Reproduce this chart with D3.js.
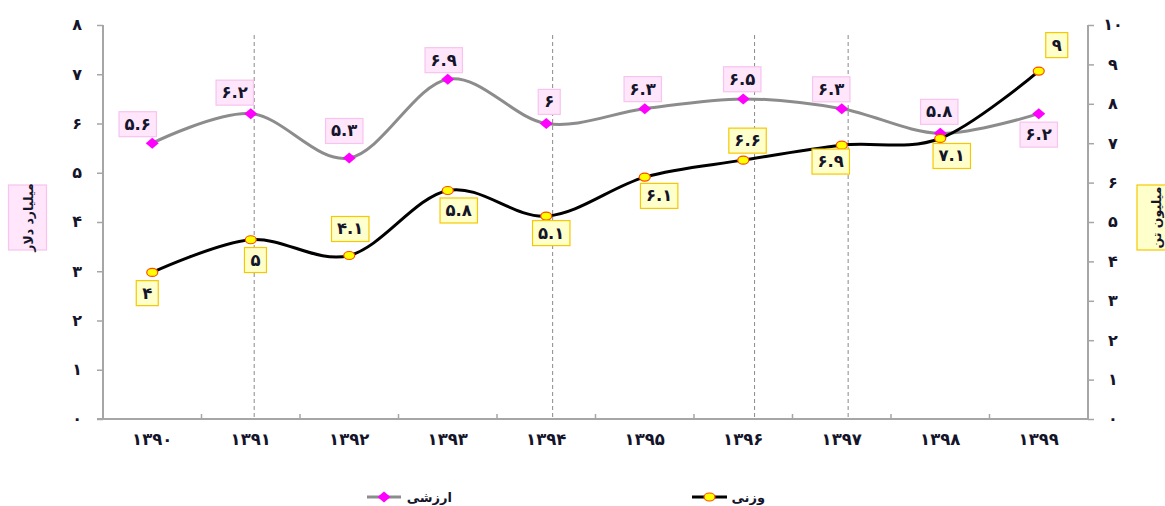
<!DOCTYPE html>
<html><head><meta charset="utf-8">
<script src="https://cdn.jsdelivr.net/npm/d3@7/dist/d3.min.js"></script>
<style>
html,body{margin:0;padding:0;background:#fff;}
svg{display:block;font-family:"DejaVu Sans",sans-serif;font-weight:bold;}
</style></head>
<body>
<svg id="c" width="1165" height="506"></svg>
<script>
// ---- data ----
const years = ["1390","1391","1392","1393","1394","1395","1396","1397","1398","1399"];
const arzeshiValues = [5.6, 6.2, 5.3, 6.9, 6.0, 6.3, 6.5, 6.3, 5.8, 6.2];        // million dollars (left axis)
const arzeshiLabels = [5.6, 6.2, 5.3, 6.9, 6, 6.3, 6.5, 6.3, 5.8, 6.2];
const vazniValues = [3.72, 4.55, 4.15, 5.8, 5.15, 6.14, 6.57, 6.95, 7.12, 8.83]; // million tons (right axis)
const vazniLabels = [4, 5, 4.1, 5.8, 5.1, 6.1, 6.6, 6.9, 7.1, 9];
const leftTicks = [0,1,2,3,4,5,6,7,8];
const rightTicks = [0,1,2,3,4,5,6,7,8,9,10];
const dashedAt = [1.035, 4.065, 6.115, 7.065]; // category index positions of dashed guides
const leftTitle = "میلیارد دلار";
const rightTitle = "میلیون تن";
const seriesNames = ["ارزشی", "وزنی"];

// ---- layout (label offsets relative to points) ----
const arzOff = [[-14.5,-19],[-16,-21],[-5,-27],[-4,-19],[3,-21.6],[-2,-19.6],[-1,-19.6],[-10.5,-19.4],[-1,-21.5],[0,21]];
const vazOff = [[-5,20.7],[4.7,20.3],[1,-26.5],[11,20],[5,17],[14.4,18.8],[4.3,-19.5],[-11,16.4],[11.5,17.5],[18,-26]];

const fa = s => String(s).replace(/\d/g, d => "۰۱۲۳۴۵۶۷۸۹"[+d]);

const svg = d3.select("#c");
const L = 103, R = 1088, T = 25, B = 419;
const x = d3.scaleBand().domain(years).range([L, R]);
const xc = d => x(d) + x.bandwidth()/2;
const xi = d3.scaleLinear().domain([0, years.length-1]).range([xc(years[0]), xc(years[years.length-1])]);
const yL = d3.scaleLinear().domain([0, 8]).range([B, T]);
const yR = d3.scaleLinear().domain([0, 10]).range([B, T]);
const axisColor = "#a6a6a6";
const txtColor = "#14142a";

// dashed guides
svg.append("g").selectAll("line").data(dashedAt).join("line")
  .attr("x1", d => xi(d)).attr("x2", d => xi(d))
  .attr("y1", 35).attr("y2", B)
  .attr("stroke", "#8a8a8a").attr("stroke-width", 1).attr("stroke-dasharray", "4,3");

// left axis
const gl = svg.append("g").attr("transform", `translate(${L},0)`)
  .call(d3.axisLeft(yL).tickValues(leftTicks).tickSize(6).tickFormat(fa));
// right axis
const gr = svg.append("g").attr("transform", `translate(${R},0)`)
  .call(d3.axisRight(yR).tickValues(rightTicks).tickSize(6).tickFormat(fa));
// bottom axis
const gb = svg.append("g").attr("transform", `translate(0,${B})`)
  .call(d3.axisBottom(x).tickSize(0).tickFormat(fa));
[gl, gr, gb].forEach(g => {
  g.select(".domain").attr("stroke", axisColor).attr("stroke-width", 2);
  g.selectAll(".tick line").attr("stroke", axisColor).attr("stroke-width", 1.5);
  g.selectAll("text").attr("fill", txtColor).attr("font-family", "DejaVu Sans").attr("font-weight", "bold");
});
gl.select(".domain").attr("d", `M0,${T}V${B}`);
gr.select(".domain").attr("d", `M0,${T}V${B}`);
gb.select(".domain").attr("d", `M${L-6},0H${R}`);
gl.selectAll("text").attr("font-size", 16).attr("x", -26).attr("dy", "0.3em").attr("text-anchor", "middle");
gr.selectAll("text").attr("font-size", 16).attr("x", 25).attr("dy", "0.3em").attr("text-anchor", "middle");
gb.selectAll("text").attr("font-size", 16.5).attr("dy", 0).attr("y", 26);
// inner category ticks on x axis (between categories)
svg.append("g").selectAll("line").data(years.slice(1)).join("line")
  .attr("x1", d => x(d)).attr("x2", d => x(d)).attr("y1", B).attr("y2", B-5)
  .attr("stroke", axisColor).attr("stroke-width", 1.5);

// lines
const curve = d3.curveCatmullRom.alpha(0);
const lineA = d3.line().x((d,i) => xc(years[i])).y(d => yL(d)).curve(curve);
const lineV = d3.line().x((d,i) => xc(years[i])).y(d => yR(d)).curve(curve);
svg.append("path").attr("d", lineA(arzeshiValues)).attr("fill", "none").attr("stroke", "#8c8c8c").attr("stroke-width", 3);
svg.append("path").attr("d", lineV(vazniValues)).attr("fill", "none").attr("stroke", "#000").attr("stroke-width", 3);

const diamond = (cx, cy) => `M${cx},${cy-5.5}L${cx+6.5},${cy}L${cx},${cy+5.5}L${cx-6.5},${cy}Z`;
svg.append("g").selectAll("path").data(arzeshiValues).join("path")
  .attr("d", (d,i) => diamond(xc(years[i]), yL(d))).attr("fill", "#ff00ff");
svg.append("g").selectAll("ellipse").data(vazniValues).join("ellipse")
  .attr("cx", (d,i) => xc(years[i])).attr("cy", d => yR(d)).attr("rx", 5.5).attr("ry", 4)
  .attr("fill", "#ffff00").attr("stroke", "#ff4a00").attr("stroke-width", 1.2);

// data labels
function labels(vals, labs, offs, yS, fill, stroke) {
  const g = svg.append("g");
  vals.forEach((v, i) => {
    const cx = xc(years[i]) + offs[i][0], cy = yS(v) + offs[i][1];
    const r = g.append("rect");
    const t = g.append("text").attr("x", cx).attr("y", cy + 5.5).attr("text-anchor", "middle")
      .attr("font-size", 16.5).attr("fill", txtColor).text(fa(labs[i]));
    const w = Math.max(22, t.node().getComputedTextLength() + 11);
    r.attr("x", cx - w/2).attr("y", cy - 12.5).attr("width", w).attr("height", 25)
      .attr("fill", fill).attr("stroke", stroke).attr("stroke-width", 1.2);
  });
}
labels(arzeshiValues, arzeshiLabels, arzOff, yL, "#ffe6fb", "#f7c3ef");
labels(vazniValues, vazniLabels, vazOff, yR, "#ffffcc", "#f5c800");

// axis titles
function title(cx, cy, txt, fill, stroke) {
  const g = svg.append("g").attr("transform", `translate(${cx},${cy}) rotate(-90)`);
  g.append("rect").attr("x", -32.5).attr("y", -19).attr("width", 65).attr("height", 38)
    .attr("fill", fill).attr("stroke", stroke).attr("stroke-width", 1.2);
  g.append("text").attr("x", 0).attr("y", 5).attr("text-anchor", "middle")
    .attr("font-size", 12.5).attr("fill", txtColor).text(txt);
}
title(27.5, 217.5, leftTitle, "#ffe6fb", "#f7c3ef");
title(1156, 217.5, rightTitle, "#ffffcc", "#f5c800");

// legend
const lg = svg.append("g");
lg.append("line").attr("x1", 367).attr("x2", 401).attr("y1", 497).attr("y2", 497).attr("stroke", "#8c8c8c").attr("stroke-width", 3);
lg.append("path").attr("d", diamond(384, 497)).attr("fill", "#ff00ff");
lg.append("text").attr("x", 452).attr("y", 502).attr("text-anchor", "end").attr("font-size", 13).attr("fill", txtColor).text(seriesNames[0]);
lg.append("line").attr("x1", 692).attr("x2", 727).attr("y1", 497).attr("y2", 497).attr("stroke", "#000").attr("stroke-width", 3);
lg.append("ellipse").attr("cx", 709.5).attr("cy", 497).attr("rx", 5.5).attr("ry", 4).attr("fill", "#ffff00").attr("stroke", "#ff4a00").attr("stroke-width", 1.2);
lg.append("text").attr("x", 765).attr("y", 502).attr("text-anchor", "end").attr("font-size", 13).attr("fill", txtColor).text(seriesNames[1]);
</script>
</body></html>
